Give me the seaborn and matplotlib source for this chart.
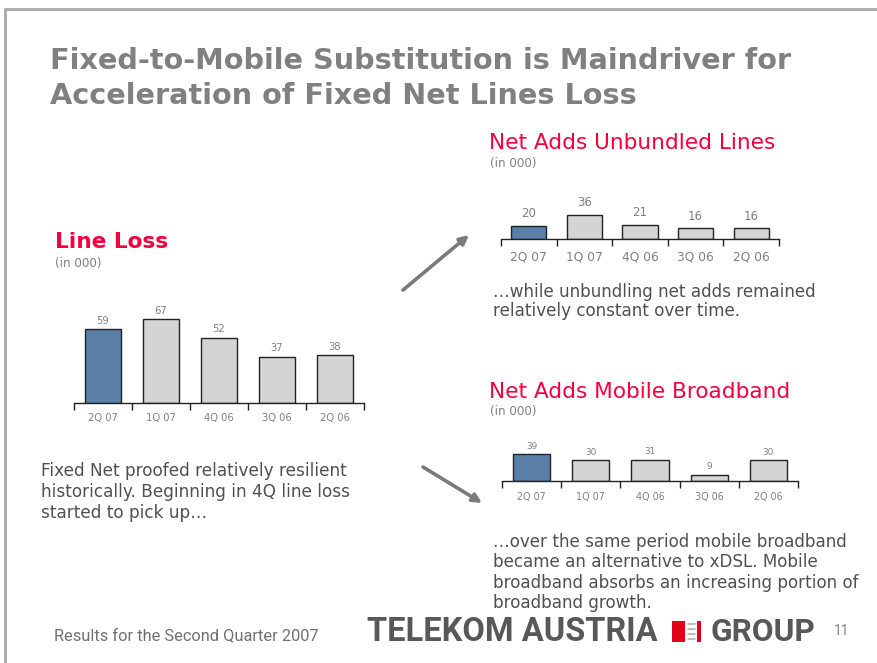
import matplotlib
matplotlib.use("Agg")
import matplotlib.pyplot as plt
import seaborn as sns
from matplotlib.patches import Rectangle, FancyArrowPatch
from matplotlib.lines import Line2D

sns.set_style("white")
plt.rcParams['font.family'] = ['DejaVu Sans']

# ---------------- data ----------------
quarters = ["2Q 07", "1Q 07", "4Q 06", "3Q 06", "2Q 06"]
line_loss = [59, 67, 52, 37, 38]
unbundled_adds = [20, 36, 21, 16, 16]
mobile_bb_adds = [39, 30, 31, 9, 30]

title_lines = ["Fixed-to-Mobile Substitution is Maindriver for",
               "Acceleration of Fixed Net Lines Loss"]
left_text = ["Fixed Net proofed relatively resilient",
             "historically. Beginning in 4Q line loss",
             "started to pick up\u2026"]
unb_text = ["\u2026while unbundling net adds remained",
            "relatively constant over time."]
mbb_text = ["\u2026over the same period mobile broadband",
            "became an alternative to xDSL. Mobile",
            "broadband absorbs an increasing portion of",
            "broadband growth."]

BLUE = "#5A7FA8"
GREY_BAR = "#D4D4D4"
RED = "#F5003D"
TXT_GREY = "#808080"
BODY = "#505050"

W, H = 877, 663
fig = plt.figure(figsize=(W / 100, H / 100), dpi=100)
fig.patch.set_facecolor("white")

# overlay axes in pixel coordinates for decoration
ov = fig.add_axes([0, 0, 1, 1])
ov.set_xlim(0, W)
ov.set_ylim(H, 0)
ov.axis("off")


def bar_chart(rect, values, ymax, fs_val, val_pad, fs_tick, tick_pad):
    l, r, base, top = rect
    ax = fig.add_axes([l / W, (H - base) / H, (r - l) / W, (base - top) / H])
    ax.patch.set_alpha(0)
    palette = [BLUE] + [GREY_BAR] * (len(quarters) - 1)
    sns.barplot(x=quarters, y=values, hue=quarters, palette=palette,
                legend=False, width=0.63, edgecolor="#222222", saturation=1,
                linewidth=1.0, ax=ax)
    for c in ax.containers:
        ax.bar_label(c, fontsize=fs_val, color=TXT_GREY, padding=val_pad)
    ax.set_xlim(-0.5, len(quarters) - 0.5)
    ax.set_ylim(0, ymax)
    for s in ["top", "right", "left"]:
        ax.spines[s].set_visible(False)
    ax.spines["bottom"].set_color("#222222")
    ax.spines["bottom"].set_linewidth(1.0)
    ax.set_yticks([])
    ax.set_xticks(range(len(quarters)))
    ax.set_xticklabels(quarters)
    ax.set_xticks([i - 0.5 for i in range(len(quarters) + 1)], minor=True)
    ax.tick_params(axis="x", which="major", length=0, pad=tick_pad,
                   labelsize=fs_tick, labelcolor=TXT_GREY)
    ax.tick_params(axis="x", which="minor", length=5, width=1,
                   color="#222222", direction="out", bottom=True)
    ax.set_xlabel("")
    ax.set_ylabel("")
    return ax


bar_chart((74, 364, 403, 303), line_loss, 100 / 1.254, 7.2, 2.5, 7.2, 7.5)
bar_chart((501, 779, 239, 199), unbundled_adds, 40 / 0.67, 8.5, 4.0, 8.8, 8)
bar_chart((502, 798, 481, 441), mobile_bb_adds, 40 / 0.69, 6.4, 2.5, 6.9, 7.8)

# slide border
ov.add_line(Line2D([5, W], [9, 9], color="#A8A8A8", lw=2))
ov.add_line(Line2D([5, 5], [9, H], color="#A8A8A8", lw=2))

# title
ov.text(50, 61, title_lines[0], fontsize=20.7, fontweight="bold",
        color=TXT_GREY, va="center", ha="left")
ov.text(50, 96, title_lines[1], fontsize=20.7, fontweight="bold",
        color=TXT_GREY, va="center", ha="left")

# chart titles
ov.text(55, 242, "Line Loss", fontsize=15.6, fontweight="bold", color=RED,
        va="center", ha="left")
ov.text(55, 263, "(in 000)", fontsize=8.6, color=TXT_GREY, va="center", ha="left")
ov.text(489, 143, "Net Adds Unbundled Lines", fontsize=15.6, color=RED,
        va="center", ha="left")
ov.text(490, 164, "(in 000)", fontsize=8.6, color=TXT_GREY, va="center", ha="left")
ov.text(489, 392, "Net Adds Mobile Broadband", fontsize=15.6, color=RED,
        va="center", ha="left")
ov.text(490, 411, "(in 000)", fontsize=8.6, color=TXT_GREY, va="center", ha="left")

# body texts
for i, t in enumerate(left_text):
    ov.text(41, 471 + i * 21, t, fontsize=12.2, color=BODY, va="center", ha="left")
for i, t in enumerate(unb_text):
    ov.text(493, 292 + i * 19.5, t, fontsize=12.1, color=BODY, va="center", ha="left")
for i, t in enumerate(mbb_text):
    ov.text(493, 542 + i * 20.3, t, fontsize=12.1, color=BODY, va="center", ha="left")

# arrows
for (x0, y0, x1, y1) in [(403, 290, 469, 235), (423, 467, 482, 503)]:
    ov.add_patch(FancyArrowPatch((x0, y0), (x1, y1), arrowstyle="-|>",
                                 mutation_scale=13, color="#7A7A7A", lw=2.6,
                                 shrinkA=0, shrinkB=0))

# footer
ov.text(54, 636, "Results for the Second Quarter 2007", fontsize=11.8,
        color="#707070", va="center", ha="left", family="Roboto")
ov.text(367, 632, "TELEKOM AUSTRIA", fontsize=23.5, fontweight="bold",
        color="#58585A", va="center", ha="left", family="Roboto")
ov.add_patch(Rectangle((672, 621), 13, 21, color="#E3001B", lw=0))
ov.add_patch(Rectangle((697, 621), 4, 21, color="#E3001B", lw=0))
for k in range(4):
    ov.add_line(Line2D([688, 695], [624 + k * 5, 624 + k * 5],
                       color="#B0B0B0", lw=1.2))
ov.text(711, 632, "GROUP", fontsize=22.8, fontweight="bold", color="#58585A",
        va="center", ha="left", family="Roboto")
ov.text(834, 631, "11", fontsize=10, color="#808080", va="center", ha="left",
        family="Roboto")

fig.savefig("out.png", dpi=100, facecolor="white")
